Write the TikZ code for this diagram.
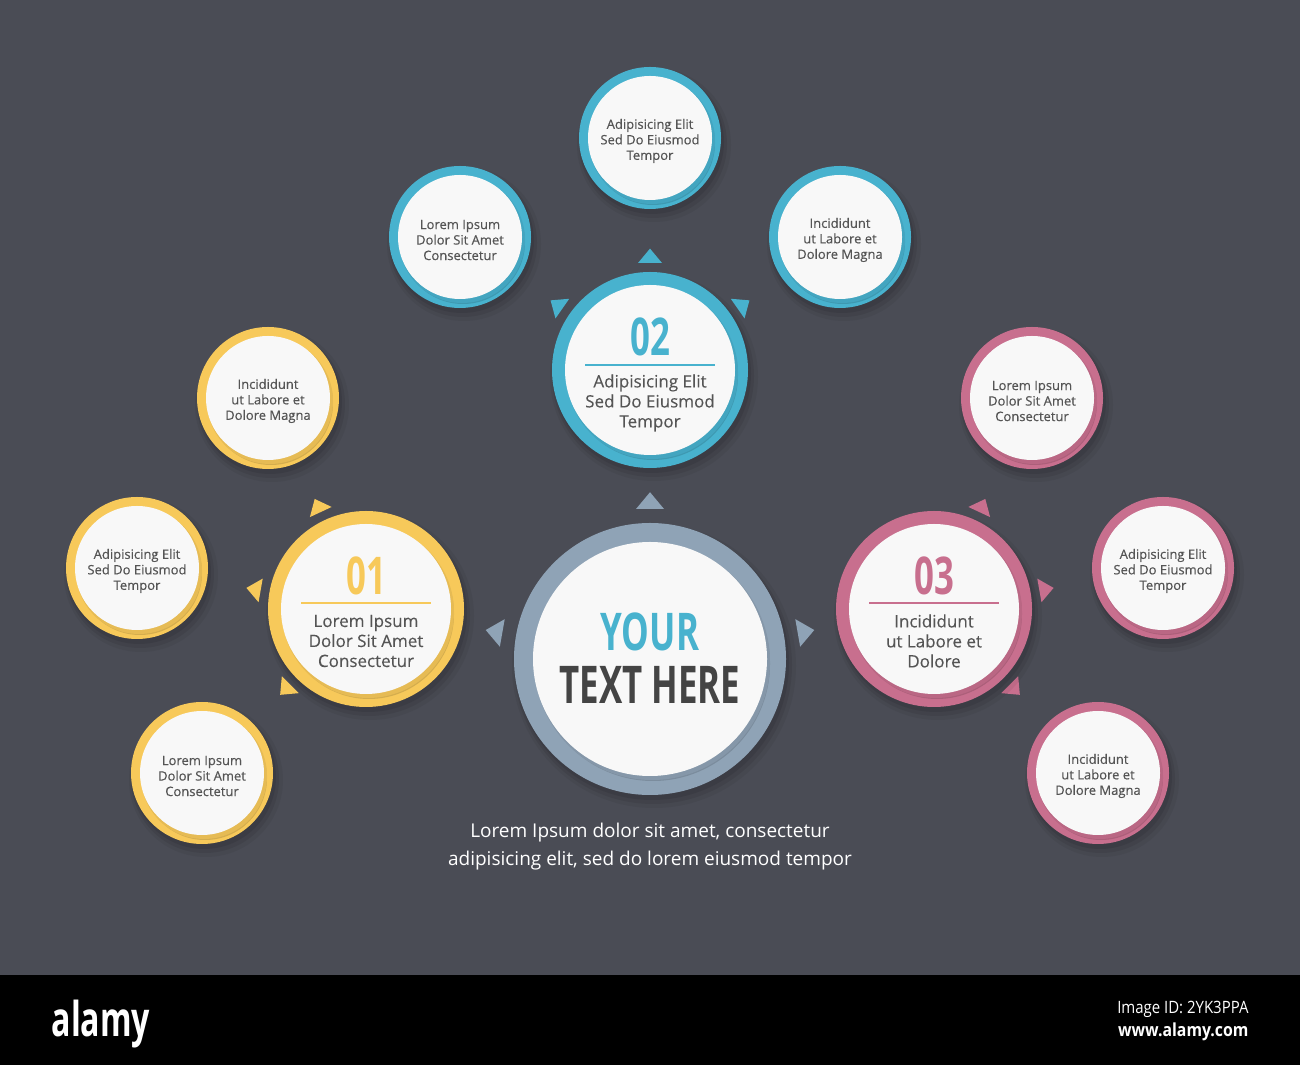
\documentclass[tikz,border=0pt]{standalone}
\usepackage{fontspec}
\setmainfont{Open Sans}
\newfontfamily\numfont[FakeStretch=0.67]{Open Sans}
\newfontfamily\semifont[FakeBold=0.4]{Open Sans}
\newfontfamily\midfont[FakeBold=0.2]{Open Sans}
\newfontfamily\bandfont[FakeStretch=0.88]{Open Sans}
\usetikzlibrary{positioning}

\definecolor{bgcol}{HTML}{4A4C55}
\definecolor{ringblue}{HTML}{48B2CE}
\definecolor{ringyellow}{HTML}{F7C95A}
\definecolor{ringpink}{HTML}{C86F8E}
\definecolor{ringslate}{HTML}{8FA3B6}
\definecolor{discwhite}{HTML}{F8F8F8}
\definecolor{txtgray}{HTML}{555555}
\definecolor{txtdark}{HTML}{444444}

% coloured ring with its shadows and white face: centre, outer radius, inner radius, colour
\newcommand\ring[4]{%
  \fill[black,opacity=0.05,shift={(#1)}] (4,-7) circle[radius=#2+6];
  \fill[black,opacity=0.07,shift={(#1)}] (3,-6) circle[radius=#2+3];
  \fill[black,opacity=0.08,shift={(#1)}] (2,-4) circle[radius=#2+1];
  \fill[#4,shift={(#1)}] (0,0) circle[radius=#2];
  \fill[#4!86!black,shift={(#1)}] (3,-5) circle[radius=#3];
  \fill[#4!93!black,shift={(#1)}] (2,-3) circle[radius=#3+1];
  \fill[discwhite,shift={(#1)}] (0,0) circle[radius=#3];
}
% little triangle pointing away: centre, angle, distance, half base, colour
\newcommand\pointer[5]{%
  \fill[#5,shift={(#1)},rotate=#2] (#3,-#4) -- ++(1.2*#4,#4) -- (#3,#4) -- cycle;
}

\begin{document}
\begin{tikzpicture}[x=1pt,y=1pt,
  smalldisc/.style={circle,minimum size=124pt,inner sep=0pt,align=center,text=txtgray,font=\semifont\fontsize{13}{15.5}\selectfont},
  bigdisc/.style={circle,minimum size=170pt,inner sep=0pt},
  hubdisc/.style={circle,minimum size=234pt,inner sep=0pt},
  bigtext/.style={align=center,text=txtgray,font=\midfont\fontsize{17}{20}\selectfont},
  numtext/.style={font=\numfont\bfseries\fontsize{52}{52}\selectfont},
]
\fill[bgcol] (0,0) rectangle (1300,1065);
\useasboundingbox (0,0) rectangle (1300,1065);
\fill[black] (0,0) rectangle (1300,90);

% pointers
\foreach \a in {90,170,10}{\pointer{650,406}{\a}{150}{14}{ringslate}}
\foreach \a in {90,145,35}{\pointer{650,695}{\a}{107}{12}{ringblue}}
\foreach \a in {115,170,225}{\pointer{366,456}{\a}{107}{12}{ringyellow}}
\foreach \a in {65,10,-45}{\pointer{934,456}{\a}{107}{12}{ringpink}}

% rings
\ring{650,406}{136}{117}{ringslate}
\ring{650,695}{98}{85}{ringblue}
\ring{366,456}{98}{85}{ringyellow}
\ring{934,456}{98}{85}{ringpink}
\ring{650,927}{71}{62}{ringblue}
\ring{460,828}{71}{62}{ringblue}
\ring{840,828}{71}{62}{ringblue}
\ring{268,667}{71}{62}{ringyellow}
\ring{137,497}{71}{62}{ringyellow}
\ring{202,292}{71}{62}{ringyellow}
\ring{1032,667}{71}{62}{ringpink}
\ring{1163,497}{71}{62}{ringpink}
\ring{1098,292}{71}{62}{ringpink}

% small discs
\node[smalldisc] (b1) at (650,924) {Adipisicing Elit\\Sed Do Eiusmod\\Tempor};
\node[smalldisc] (b2) at (460,825) {Lorem Ipsum\\Dolor Sit Amet\\Consectetur};
\node[smalldisc] (b3) at (840,825) {Incididunt\\ut Labore et\\Dolore Magna};
\node[smalldisc] (y1) at (268,664) {Incididunt\\ut Labore et\\Dolore Magna};
\node[smalldisc] (y2) at (137,494) {Adipisicing Elit\\Sed Do Eiusmod\\Tempor};
\node[smalldisc] (y3) at (202,289) {Lorem Ipsum\\Dolor Sit Amet\\Consectetur};
\node[smalldisc] (p1) at (1032,664) {Lorem Ipsum\\Dolor Sit Amet\\Consectetur};
\node[smalldisc] (p2) at (1163,494) {Adipisicing Elit\\Sed Do Eiusmod\\Tempor};
\node[smalldisc] (p3) at (1098,289) {Incididunt\\ut Labore et\\Dolore Magna};

% numbered discs
\node[bigdisc] (n01) at (366,456) {};
\node[numtext,text=ringyellow] (num01) at ([yshift=33pt]n01.center) {01};
\draw[ringyellow,line width=1.2pt] ([xshift=-65pt,yshift=6pt]n01.center) -- ([xshift=65pt,yshift=6pt]n01.center);
\node[bigtext] (txt01) at ([yshift=-32pt]n01.center) {Lorem Ipsum\\Dolor Sit Amet\\Consectetur};

\node[bigdisc] (n02) at (650,695) {};
\node[numtext,text=ringblue] (num02) at ([yshift=33pt]n02.center) {02};
\draw[ringblue,line width=1.2pt] ([xshift=-65pt,yshift=5pt]n02.center) -- ([xshift=65pt,yshift=5pt]n02.center);
\node[bigtext] (txt02) at ([yshift=-33pt]n02.center) {Adipisicing Elit\\Sed Do Eiusmod\\Tempor};

\node[bigdisc] (n03) at (934,456) {};
\node[numtext,text=ringpink] (num03) at ([yshift=33pt]n03.center) {03};
\draw[ringpink,line width=1.2pt] ([xshift=-65pt,yshift=6pt]n03.center) -- ([xshift=65pt,yshift=6pt]n03.center);
\node[bigtext] (txt03) at ([yshift=-32pt]n03.center) {Incididunt\\ut Labore et\\Dolore};

% hub
\node[hubdisc] (hub) at (650,406) {};
\node[numtext,text=ringblue] (your) at ([yshift=27pt]hub.center) {YOUR};
\node[numtext,text=txtdark] (here) at ([yshift=-26pt]hub.center) {TEXT HERE};

\node[text=white,align=center,font=\fontsize{19}{28}\selectfont] (note) at (650,218) {Lorem Ipsum dolor sit amet, consectetur\\adipisicing elit, sed do lorem eiusmod tempor};

% band
\node[text=white,font=\numfont\bfseries\fontsize{48}{48}\selectfont] (brand) at (101,41) {alamy};
\node[text=white,anchor=east,font=\bandfont\fontsize{17}{17}\selectfont] (imgid) at (1252,56) {Image ID: 2YK3PPA};
\node[text=white,anchor=east,font=\bandfont\bfseries\fontsize{18}{18}\selectfont] (site) at (1252,33) {www.alamy.com};
\end{tikzpicture}
\end{document}
